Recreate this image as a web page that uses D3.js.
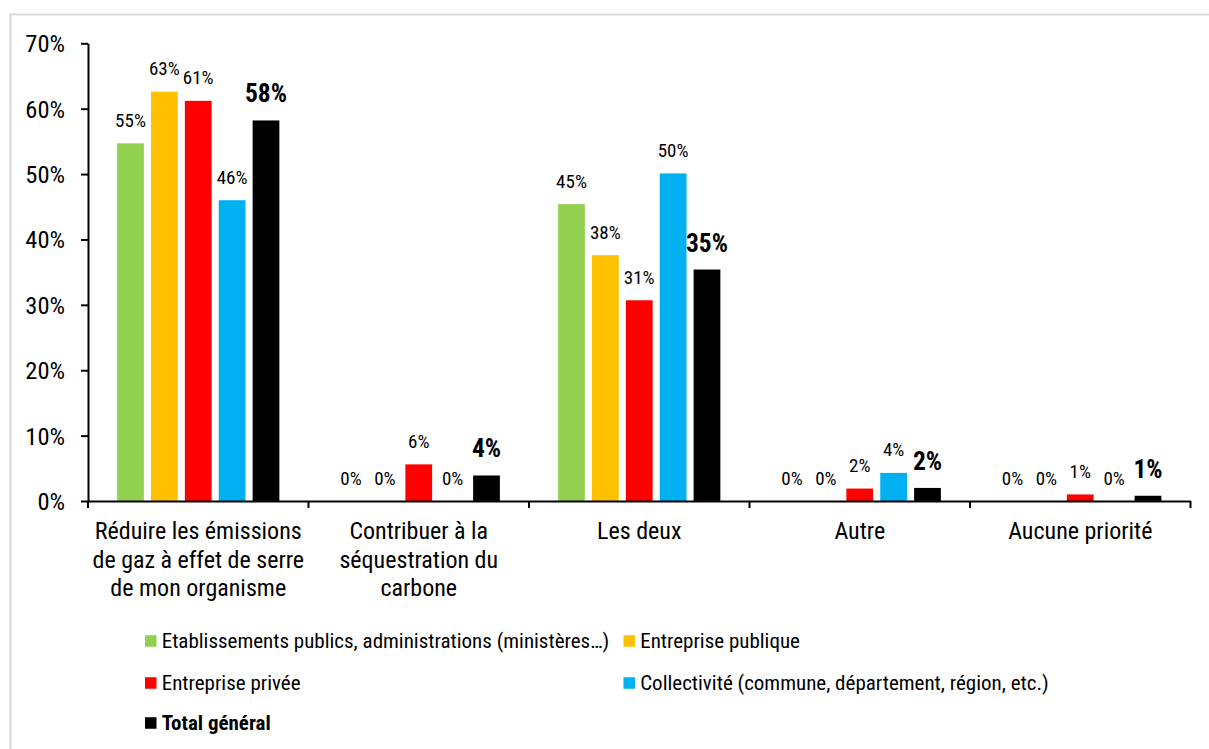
<!DOCTYPE html>
<html><head><meta charset="utf-8">
<script src="https://cdn.jsdelivr.net/npm/d3@7"></script>
<style>html,body{margin:0;padding:0;background:#fff;} svg{display:block;}</style>
</head><body>
<script>
const categories = ["Réduire les émissions\nde gaz à effet de serre\nde mon organisme", "Contribuer à la\nséquestration du\ncarbone", "Les deux", "Autre", "Aucune priorité"];
const seriesNames = ["Etablissements publics, administrations (ministères…)", "Entreprise publique", "Entreprise privée", "Collectivité (commune, département, région, etc.)", "Total général"];
const etablissementsPublics = [54.7, 0, 45.4, 0, 0];
const entreprisePublique = [62.6, 0, 37.6, 0, 0];
const entreprisePrivee = [61.2, 5.6, 30.7, 1.9, 1.0];
const collectivite = [46.0, 0, 50.1, 4.3, 0];
const totalGeneral = [58.2, 3.9, 35.4, 2.0, 0.8];
const yTicks = [0, 10, 20, 30, 40, 50, 60, 70];
const colors = ["#92D050", "#FFC000", "#FF0000", "#00B0F0", "#000000"];

const seriesValues = [etablissementsPublics, entreprisePublique, entreprisePrivee, collectivite, totalGeneral];

function fontAvailable(name) {
  const c = document.createElement('canvas').getContext('2d');
  const s = 'abcdefghijklmnopqrstuvwxyz0123456789%';
  c.font = '40px monospace'; const w1 = c.measureText(s).width;
  c.font = '40px "' + name + '", monospace'; return c.measureText(s).width !== w1;
}
const cond = fontAvailable('Roboto Condensed');
const FAM = cond ? '"Roboto Condensed"' : 'Roboto';
const S = cond ? {tick:1, lab:1, bold:1, cat:1, leg:1} : {tick:0.83, lab:0.85, bold:0.95, cat:0.87, leg:0.87};

const W = 1209, H = 749;
const svg = d3.select('body').append('svg').attr('width', W).attr('height', H)
  .style('font-family', FAM);

svg.append('rect').attr('x', 10.5).attr('y', 14.5).attr('width', 1220).attr('height', 760)
  .attr('fill', '#fff').attr('stroke', '#d9d9d9').attr('stroke-width', 2);

const x0 = d3.scaleBand().domain(categories).range([88, 1190.5]);
const x1 = d3.scaleBand().domain(seriesNames).range([0, x0.bandwidth()]).paddingInner(0.21).paddingOuter(0.86);
const y = d3.scaleLinear().domain([0, 70]).range([501, 43.3]);

// bars
const groups = svg.append('g').selectAll('g').data(categories).join('g')
  .attr('transform', d => `translate(${x0(d)},0)`);

groups.each(function(cat, ci) {
  const g = d3.select(this);
  const rows = seriesNames.map((s, si) => ({s, si, v: seriesValues[si][ci]}));
  g.selectAll('rect').data(rows).join('rect')
    .attr('x', d => x1(d.s)).attr('width', x1.bandwidth())
    .attr('y', d => y(d.v)).attr('height', d => y(0) - y(d.v))
    .attr('fill', d => colors[d.si]);
  g.selectAll('text').data(rows).join('text')
    .attr('transform', d => {
      const bold = d.si === 4;
      return `translate(${x1(d.s) + x1.bandwidth() / 2},${y(d.v) - (bold ? 18 : 16.5)}) scale(${bold ? S.bold : S.lab},1)`;
    })
    .attr('text-anchor', 'middle')
    .attr('font-size', d => d.si === 4 ? 25.5 : 19)
    .attr('font-weight', d => d.si === 4 ? 'bold' : 'normal')
    .attr('fill', '#000')
    .text(d => d3.format('.0f')(d.v) + '%');
});

// y axis
const yAxis = svg.append('g').attr('transform', 'translate(88,0)')
  .call(d3.axisLeft(y).tickValues(yTicks).tickSize(7).tickSizeOuter(0).tickFormat(d => d + '%'));
yAxis.select('.domain').attr('stroke', '#000').attr('stroke-width', 2);
yAxis.selectAll('.tick line').attr('stroke', '#000').attr('stroke-width', 2);
yAxis.selectAll('.tick text')
  .attr('x', null).attr('dy', null)
  .attr('transform', `translate(-23,8.5) scale(${S.tick},1)`)
  .attr('font-size', 24.5).attr('font-family', FAM).attr('fill', '#000');

// x axis
const xAxis = svg.append('g').attr('transform', `translate(0,${y(0)})`)
  .call(d3.axisBottom(x0).tickSize(0).tickSizeOuter(0).tickFormat(''));
xAxis.select('.domain').attr('stroke', '#000').attr('stroke-width', 2);
const bounds = categories.map(c => x0(c)).concat([x0.range()[1]]);
xAxis.selectAll('line.bound').data(bounds).join('line').attr('class', 'bound')
  .attr('x1', d => d).attr('x2', d => d).attr('y1', 0).attr('y2', 7)
  .attr('stroke', '#000').attr('stroke-width', 2);

// category labels
const catLab = svg.append('g').selectAll('text').data(categories).join('text')
  .attr('transform', d => `translate(${x0(d) + x0.bandwidth() / 2},539.3) scale(${S.cat},1)`)
  .attr('text-anchor', 'middle').attr('font-size', 24).attr('fill', '#000');
catLab.each(function(d) {
  d3.select(this).selectAll('tspan').data(d.split('\n')).join('tspan')
    .attr('x', 0).attr('dy', (t, i) => i === 0 ? 0 : 28.3).text(t => t);
});

// legend
const legCols = [145, 623.5];
const legRows = [641, 683, 723];
const leg = svg.append('g').selectAll('g').data(seriesNames).join('g')
  .attr('transform', (d, i) => `translate(${legCols[i % 2]},${legRows[Math.floor(i / 2)]})`);
leg.append('rect').attr('x', 0).attr('y', -5.75).attr('width', 11.5).attr('height', 11.5)
  .attr('fill', (d, i) => colors[i]);
leg.append('text').attr('transform', `translate(16.7,6.8) scale(${S.leg},1)`)
  .attr('font-size', 21).attr('font-weight', (d, i) => i === 4 ? 'bold' : 'normal')
  .attr('fill', '#000').text(d => d);
</script>
</body></html>
